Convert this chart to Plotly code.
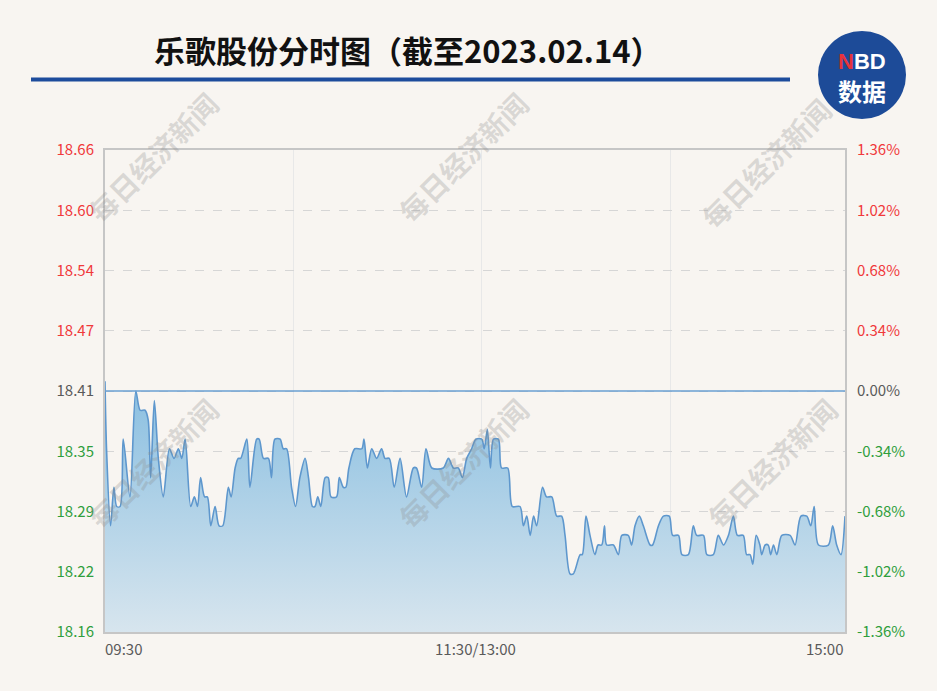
import plotly.graph_objects as go

# ---------------- data ----------------
title_text = "乐歌股份分时图（截至2023.02.14）"
watermark_text = "每日经济新闻"
prev_close = 18.41

# minutes after 09:30 (trading minutes, 0..240) and price
minutes = [
    0, 0.5, 1.8, 2.9, 3.8, 4.9, 5.9, 8.1, 10, 11.4, 13, 14, 14.8, 16, 17.3, 18.9,
    20.9, 22.4, 23.8, 24.9, 26, 27.8, 29, 30, 31, 32.3, 33.2, 34.3, 35.7, 37, 38.2,
    40, 40.9, 42.2, 43.2, 44, 46, 47, 49.2, 50, 51.4, 53, 54, 55.1, 56.8, 57.8, 58.9,
    60.5, 61.8, 63.2, 64.9, 66, 67.3, 68.1, 69, 70, 71.4, 72.4, 73.3, 75.1, 76, 77.3,
    78.1, 79.1, 81, 83.3, 84, 85.1, 86.5, 88.1, 89.7, 90.8, 92.2, 93.8, 95.7, 97.8,
    100, 101, 102.7, 104.1, 106, 109.7, 111.4, 113, 114.6, 115.9, 117.3, 118.9, 120.3,
    122.2, 123, 124, 125, 126, 127.6, 128.6, 130.6, 132.1, 134.6, 135.7, 136.8, 137.9,
    139, 140, 141.9, 143.2, 144.9, 146.5, 148.1, 149.2, 150.8, 151.9, 154.1, 154.8,
    156, 157.3, 158.9, 159.9, 161.1, 162, 162.7, 164.9, 166.5, 167.6, 169.7, 170.8,
    171.9, 173.3, 174.6, 176.8, 177.6, 179.5, 181.1, 183, 184.1, 186, 187.1, 189.2,
    190.8, 191.9, 194.1, 195.2, 197.3, 198.9, 200.6, 202.2, 203.8, 205.1, 207, 208.1,
    209.2, 210.1, 211.2, 212.4, 213, 214.1, 215.1, 215.9, 216.8, 217.9, 219.5, 222.2,
    223.8, 225.7, 227.6, 228.9, 230, 231.4, 234.6, 236, 237.3, 238.7, 240,
]
prices = [
    18.42, 18.35, 18.27, 18.31, 18.29, 18.29, 18.36, 18.30, 18.41, 18.39, 18.39, 18.38, 18.32, 18.40, 18.34, 18.30,
    18.35, 18.34, 18.35, 18.34, 18.36, 18.29, 18.30, 18.29, 18.32, 18.30, 18.30, 18.27, 18.29, 18.27, 18.27,
    18.31, 18.30, 18.33, 18.34, 18.34, 18.36, 18.31, 18.36, 18.36, 18.34, 18.34, 18.32, 18.36, 18.36, 18.35, 18.35,
    18.31, 18.29, 18.32, 18.34, 18.32, 18.29, 18.29, 18.30, 18.29, 18.32, 18.32, 18.30, 18.30, 18.32, 18.31,
    18.31, 18.33, 18.35, 18.35, 18.36, 18.33, 18.35, 18.34, 18.35, 18.34, 18.34, 18.31, 18.34, 18.30,
    18.33, 18.33, 18.31, 18.35, 18.33, 18.33, 18.34, 18.33, 18.33, 18.32, 18.34, 18.35, 18.36,
    18.36, 18.35, 18.37, 18.33, 18.36, 18.36, 18.33, 18.33, 18.29, 18.29, 18.27, 18.28, 18.26,
    18.28, 18.27, 18.31, 18.30, 18.30, 18.28, 18.28, 18.26, 18.22, 18.22, 18.24, 18.24,
    18.28, 18.26, 18.24, 18.25, 18.25, 18.27, 18.25, 18.25, 18.24, 18.26, 18.26, 18.25,
    18.27, 18.28, 18.27, 18.25, 18.25, 18.27, 18.28, 18.28, 18.26, 18.26, 18.24, 18.24,
    18.27, 18.26, 18.26, 18.24, 18.24, 18.26, 18.25, 18.26, 18.28, 18.26, 18.26, 18.24,
    18.24, 18.23, 18.26, 18.25, 18.24, 18.25, 18.25, 18.24, 18.25, 18.24, 18.26, 18.26,
    18.25, 18.28, 18.28, 18.27, 18.29, 18.25, 18.25, 18.27, 18.25, 18.24, 18.28,
]

pct_steps = [-1.36, -1.02, -0.68, -0.34, 0.0, 0.34, 0.68, 1.02, 1.36]
left_tick_labels = ["18.16", "18.22", "18.29", "18.35", "18.41", "18.47", "18.54", "18.60", "18.66"]
right_tick_labels = ["-1.36%", "-1.02%", "-0.68%", "-0.34%", "0.00%", "0.34%", "0.68%", "1.02%", "1.36%"]
x_tick_labels = ["09:30", "11:30/13:00", "15:00"]
x_tick_minutes = [0, 120, 240]

# ---------------- helpers ----------------
W, H = 937, 691
L, R, T, B = 105, 845, 150, 632   # plot area in pixels
BG = "#f8f5f1"

def px(x):
    return (x - L) / (R - L)

def py(y):
    return (B - y) / (B - T)

RED, GREY, GREEN = "#f0393b", "#5a5a5a", "#2f9e3c"

tickvals = [prev_close * (1 + p / 100) for p in pct_steps]
y_range = [tickvals[0], tickvals[-1]]

def colored(labels):
    out = []
    for p, t in zip(pct_steps, labels):
        c = RED if p > 0 else (GREEN if p < 0 else GREY)
        out.append(f'<span style="color:{c}">{t}</span>')
    return out

fig = go.Figure()

fig.add_trace(go.Scatter(
    x=minutes, y=prices, mode="lines",
    line=dict(color="#5e97cd", width=1.6, shape="spline", smoothing=0.8),
    fill="tozeroy",
    fillgradient=dict(type="vertical", start=y_range[0], stop=prev_close,
                      colorscale=[[0, "#d7e5ee"], [1, "#8cc0e1"]]),
    hoverinfo="skip", showlegend=False,
))
# invisible trace to activate right axis
fig.add_trace(go.Scatter(
    x=minutes, y=prices, yaxis="y2", mode="lines",
    line=dict(color="rgba(0,0,0,0)", width=0), hoverinfo="skip", showlegend=False,
))

font_main = "Noto Sans CJK SC, Noto Sans, sans-serif"

fig.update_layout(
    width=W, height=H,
    margin=dict(l=L, r=W - R, t=T, b=H - B, pad=0),
    paper_bgcolor=BG, plot_bgcolor=BG,
    font=dict(family=font_main, size=15, color=GREY),
    xaxis=dict(
        range=[0, 240], tickvals=[61, 122, 183.3], showticklabels=False, ticks="",
        showgrid=True, gridcolor="#e8e8e8", gridwidth=1, zeroline=False,
        showline=True, mirror=True, linecolor="#c6c6c6", linewidth=2,
    ),
    yaxis=dict(
        range=y_range, tickvals=tickvals, ticktext=colored(left_tick_labels),
        showgrid=True, gridcolor="#d6d6d6", griddash="dash", gridwidth=1,
        zeroline=False, ticks="", ticklabelstandoff=6,
        showline=True, mirror=True, linecolor="#c6c6c6", linewidth=2,
        tickfont=dict(size=15, family=font_main),
    ),
    yaxis2=dict(
        range=y_range, tickvals=tickvals, ticktext=colored(right_tick_labels),
        overlaying="y", side="right", showgrid=False, zeroline=False, ticks="",
        ticklabelstandoff=11, tickfont=dict(size=15, family=font_main),
    ),
)

# previous close line
fig.add_shape(type="line", xref="paper", yref="y", x0=0, x1=1, y0=prev_close, y1=prev_close,
              line=dict(color="#6a9fd2", width=1.6))

# x tick labels
anchors = ["left", "center", "right"]
for xv, t, a in zip(x_tick_minutes, x_tick_labels, anchors):
    fig.add_annotation(x=xv, y=0, xref="x", yref="paper", text=t, showarrow=False,
                       xanchor=a, yanchor="top", yshift=-4, xshift=(-2 if a == "left" else 0),
                       font=dict(size=15, color=GREY, family=font_main))

# watermarks
for cx, cy in [(153, 157), (463, 157), (766, 163), (153, 463), (463, 463), (772, 463)]:
    fig.add_annotation(x=px(cx), y=py(cy), xref="paper", yref="paper", text=watermark_text,
                       showarrow=False, textangle=-45, xanchor="center", yanchor="middle",
                       font=dict(size=28, color="rgba(140,140,140,0.28)",
                                 family=font_main, weight="bold"))

# title
fig.add_annotation(x=px(407), y=py(49), xref="paper", yref="paper", text=title_text,
                   showarrow=False, xanchor="center", yanchor="middle",
                   font=dict(size=31, color="#111111", family=font_main, weight="bold"))
# underline
fig.add_shape(type="line", xref="paper", yref="paper", x0=px(31), x1=px(790), y0=py(79.5), y1=py(79.5),
              line=dict(color="#1d4c9c", width=4))

# logo
fig.add_shape(type="circle", xref="paper", yref="paper", x0=px(818), x1=px(906), y0=py(119), y1=py(31),
              fillcolor="#1d4b98", line=dict(color="#1d4b98", width=0))
fig.add_annotation(x=px(862), y=py(62), xref="paper", yref="paper",
                   text='<span style="color:#e8333b">N</span>BD', showarrow=False,
                   xanchor="center", yanchor="middle",
                   font=dict(size=22, color="white", family="Liberation Sans, Arial", weight="bold"))
fig.add_annotation(x=px(862), y=py(90), xref="paper", yref="paper", text="数据", showarrow=False,
                   xanchor="center", yanchor="middle",
                   font=dict(size=24, color="white", family=font_main, weight="bold"))

fig.write_html(
    "out.html",
    config={"displayModeBar": False},
    post_script=f"document.body.style.margin='0';document.body.style.background='{BG}';",
)
